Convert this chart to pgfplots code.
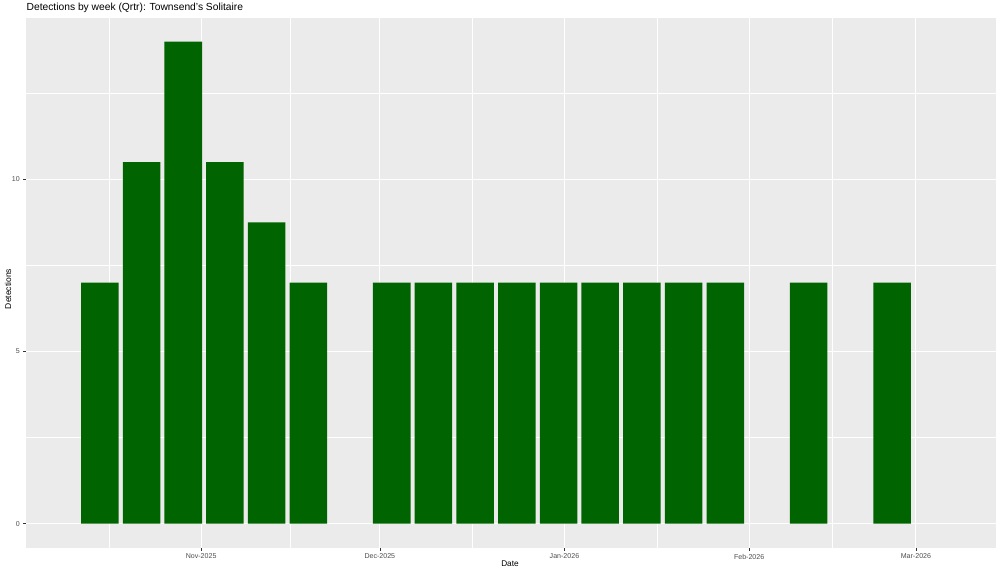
\documentclass[border=0pt]{standalone}
\usepackage{pgfplots}
\pgfplotsset{compat=1.18}
\usepackage{fontspec}
\setmainfont{Liberation Sans}
\definecolor{panel}{HTML}{EBEBEB}
\definecolor{bargreen}{HTML}{006400}
\definecolor{ticktext}{HTML}{4D4D4D}
\definecolor{tickcol}{HTML}{333333}
\begin{document}
\begin{tikzpicture}
\useasboundingbox (0,0) rectangle (750pt,429.75pt);
\begin{axis}[
  at={(19.5pt,19pt)}, anchor=south west,
  scale only axis, width=727.3pt, height=397.5pt,
  xmin=-29.4, xmax=133.4, ymin=-0.7, ymax=14.7,
  axis background/.style={fill=panel},
  axis line style={draw=none},
  xtick={0,30,61,92,120},
  xticklabels={Nov-2025,Dec-2025,Jan-2026,Feb-2026,Mar-2026},
  minor xtick={-15.5,15,45.5,76.5,106},
  ytick={0,5,10},
  minor ytick={2.5,7.5,12.5},
  grid=both,
  major grid style={white, line width=0.85pt},
  minor grid style={white, line width=0.42pt},
  tick align=outside,
  major tick length=2.2pt,
  minor tick length=0pt,
  tick style={tickcol, line width=0.4pt},
  xtick pos=bottom, ytick pos=left,
  ticklabel style={font=\fontsize{5.3}{6}\selectfont, text=ticktext},
  xticklabel style={yshift=1pt},
  yticklabel style={xshift=1pt},
  /pgf/number format/assume math mode=true,
  clip=false,
]
\addplot[ybar, bar width=6.3, fill=bargreen, draw=none] coordinates {
  (-17,7) (-10,10.5) (-3,14) (4,10.5) (11,8.75) (18,7)
  (32,7) (39,7) (46,7) (53,7) (60,7) (67,7) (74,7) (81,7) (88,7)
  (102,7) (116,7)
};
\end{axis}
\node[anchor=west, inner sep=0pt, font=\fontsize{7.7}{9}\selectfont] at (19.8pt,423.5pt) {Detections by week (Qrtr): Townsend's Solitaire};
\node[font=\fontsize{6.2}{7}\selectfont] at (382.5pt,7.3pt) {Date};
\node[rotate=90, font=\fontsize{6.4}{7}\selectfont] at (6pt,213pt) {Detections};
\end{tikzpicture}
\end{document}
